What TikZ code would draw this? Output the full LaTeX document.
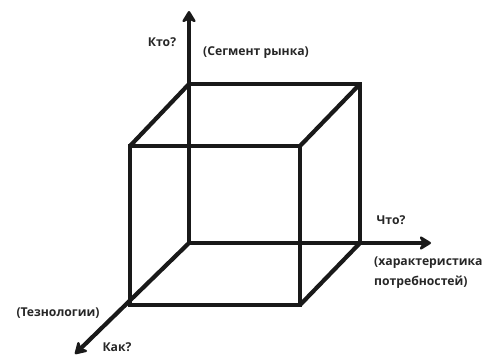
\documentclass[tikz,border=0pt]{standalone}
\usepackage{fontspec}
\setmainfont{Open Sans}
\usetikzlibrary{arrows.meta}
\begin{document}
\begin{tikzpicture}[x=1pt,y=-1pt,
  edge/.style={line width=4.2pt,color=black!90,line cap=butt,line join=miter},
  axis/.style={edge,-{Stealth[length=14pt,width=17pt,inset=4.5pt,round]}},
  lbl/.style={font=\bfseries\fontsize{12.2}{13}\selectfont,text=black!85,inner sep=0pt}]
\useasboundingbox (0,0) rectangle (491,356);
% back square
\coordinate (O) at (189,243);
\coordinate (B1) at (189,84);
\coordinate (B2) at (360,84);
\coordinate (B3) at (360,243);
% front square
\coordinate (F0) at (130,305);
\coordinate (F1) at (130,146);
\coordinate (F2) at (300,146);
\coordinate (F3) at (300,305);
% axis ends
\coordinate (Yend) at (189,11);
\coordinate (Xend) at (431,243);
\coordinate (Zend) at (75,354);
% axes
\draw[axis] (O) -- (Yend);
\draw[axis] (O) -- (Xend);
\draw[axis] (O) -- (Zend);
% cube
\draw[edge] (B1) -- (B2) -- (B3);
\draw[edge] (F0) -- (F1) -- (F2) -- (F3) -- cycle;
\draw[edge] (F1) -- (B1);
\draw[edge] (F2) -- (B2);
\draw[edge] (F3) -- (B3);
% labels
\node[lbl] (kto) at (162,42) {Кто?};
\node[lbl] (seg) at (256,53) {(Сегмент рынка)};
\node[lbl] (chto) at (391,220) {Что?};
\node[lbl,anchor=west] (har) at (374,263) {(характеристика};
\node[lbl,anchor=west] (potr) at (374,282) {потребностей)};
\node[lbl] (tech) at (58,313) {(Тезнологии)};
\node[lbl] (kak) at (117,347) {Как?};
\end{tikzpicture}
\end{document}
